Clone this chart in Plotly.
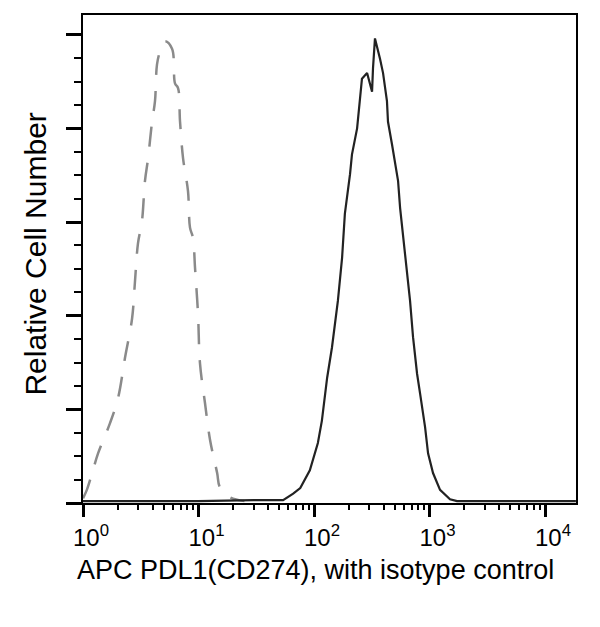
import plotly.graph_objects as go

# PDL1 stained sample (solid)
pdl1_x = [1.0, 10, 30, 54, 66, 76, 92, 108, 117, 130, 143, 152, 161, 175, 185, 205, 213,
          236, 250, 260, 288, 318, 324, 337, 373, 396, 428, 437, 473, 502, 534, 556, 590,
          614, 639, 678, 720, 780, 828, 915, 971, 1072, 1233, 1504, 1730, 18500]
pdl1_y = [0.02, 0.02, 0.03, 0.03, 0.10, 0.16, 0.35, 0.64, 0.88, 1.34, 1.66, 1.91, 2.16, 2.62,
          3.09, 3.51, 3.72, 4.00, 4.29, 4.53, 4.59, 4.39, 4.64, 4.96, 4.74, 4.59, 4.29, 4.07,
          3.83, 3.62, 3.44, 3.15, 2.87, 2.66, 2.45, 2.16, 1.77, 1.38, 1.17, 0.81, 0.53, 0.32,
          0.14, 0.04, 0.02, 0.02]

# Isotype control (dashed)
iso_x = [1.0, 1.08, 1.20, 1.35, 1.71, 2.01, 2.31, 2.66, 2.82, 2.99, 3.24, 3.44, 3.66, 3.96,
         4.20, 4.37, 4.64, 5.13, 5.90, 6.26, 6.65, 6.92, 7.35, 8.11, 8.44, 8.96, 9.33, 9.90,
         10.3, 11.4, 12.6, 14.5, 15.3, 18.7, 25]
iso_y = [0.05, 0.14, 0.32, 0.53, 0.85, 1.12, 1.55, 1.97, 2.37, 2.77, 3.01, 3.44, 3.68, 4.07,
         4.29, 4.68, 4.82, 4.93, 4.85, 4.48, 4.43, 4.07, 3.68, 3.33, 2.94, 2.83, 2.51, 2.02,
         1.49, 1.06, 0.67, 0.32, 0.17, 0.06, 0.02]

x_tick_vals = [1, 10, 100, 1000, 10000]
x_tick_text = ["10<sup>0</sup>", "10<sup>1</sup>", "10<sup>2</sup>", "10<sup>3</sup>", "10<sup>4</sup>"]
x_minor_vals = [m * d for d in [1, 10, 100, 1000, 10000] for m in range(2, 10) if m * d < 18500]
y_major_vals = [0, 1, 2, 3, 4, 5]
y_minor_vals = [i * 0.25 for i in range(0, 21)]

fig = go.Figure()
fig.add_trace(go.Scatter(x=iso_x, y=iso_y, mode="lines",
                         line=dict(color="#8a8a8a", width=2.5, dash="20px,16px"),
                         line_shape="spline", showlegend=False))
fig.add_trace(go.Scatter(x=pdl1_x, y=pdl1_y, mode="lines",
                         line=dict(color="#222222", width=2.2),
                         showlegend=False))

fig.update_layout(
    width=600, height=627,
    margin=dict(l=83, r=24, t=15, b=124),
    paper_bgcolor="white", plot_bgcolor="white",
    font=dict(family="Liberation Sans, Arial, sans-serif", color="black"),
    annotations=[
        dict(text="Relative Cell Number", textangle=-90, xref="paper", yref="paper",
             x=0, y=0.51, xanchor="right", yanchor="middle", xshift=-29, showarrow=False,
             font=dict(size=30, color="black")),
        dict(text="APC PDL1(CD274), with isotype control", xref="paper", yref="paper",
             x=0.4716, y=0, xanchor="center", yanchor="top", yshift=-50, showarrow=False,
             font=dict(size=27, color="black")),
    ],
)
fig.update_xaxes(
    type="log", range=[0, 4.268], showgrid=False, zeroline=False,
    showline=True, linecolor="black", linewidth=2, mirror=True,
    tickmode="array", tickvals=x_tick_vals, ticktext=x_tick_text,
    ticks="outside", ticklen=12, tickwidth=2.5, tickcolor="black",
    tickfont=dict(size=24, color="black"), ticklabelshift=8,
    minor=dict(tickmode="array", tickvals=x_minor_vals, ticks="outside", ticklen=5,
               tickwidth=1.5, tickcolor="black", showgrid=False),
)
fig.update_yaxes(
    range=[0, 5.21], showgrid=False, zeroline=False,
    showline=True, linecolor="black", linewidth=2, mirror=True,
    tickmode="array", tickvals=y_major_vals, showticklabels=False,
    ticks="outside", ticklen=15, tickwidth=2.5, tickcolor="black",
    minor=dict(tickmode="array", tickvals=y_minor_vals, ticks="outside", ticklen=7,
               tickwidth=1.5, tickcolor="black", showgrid=False),
)

fig.write_html("out.html", config={"displayModeBar": False},
               post_script="document.body.style.margin='0';")
